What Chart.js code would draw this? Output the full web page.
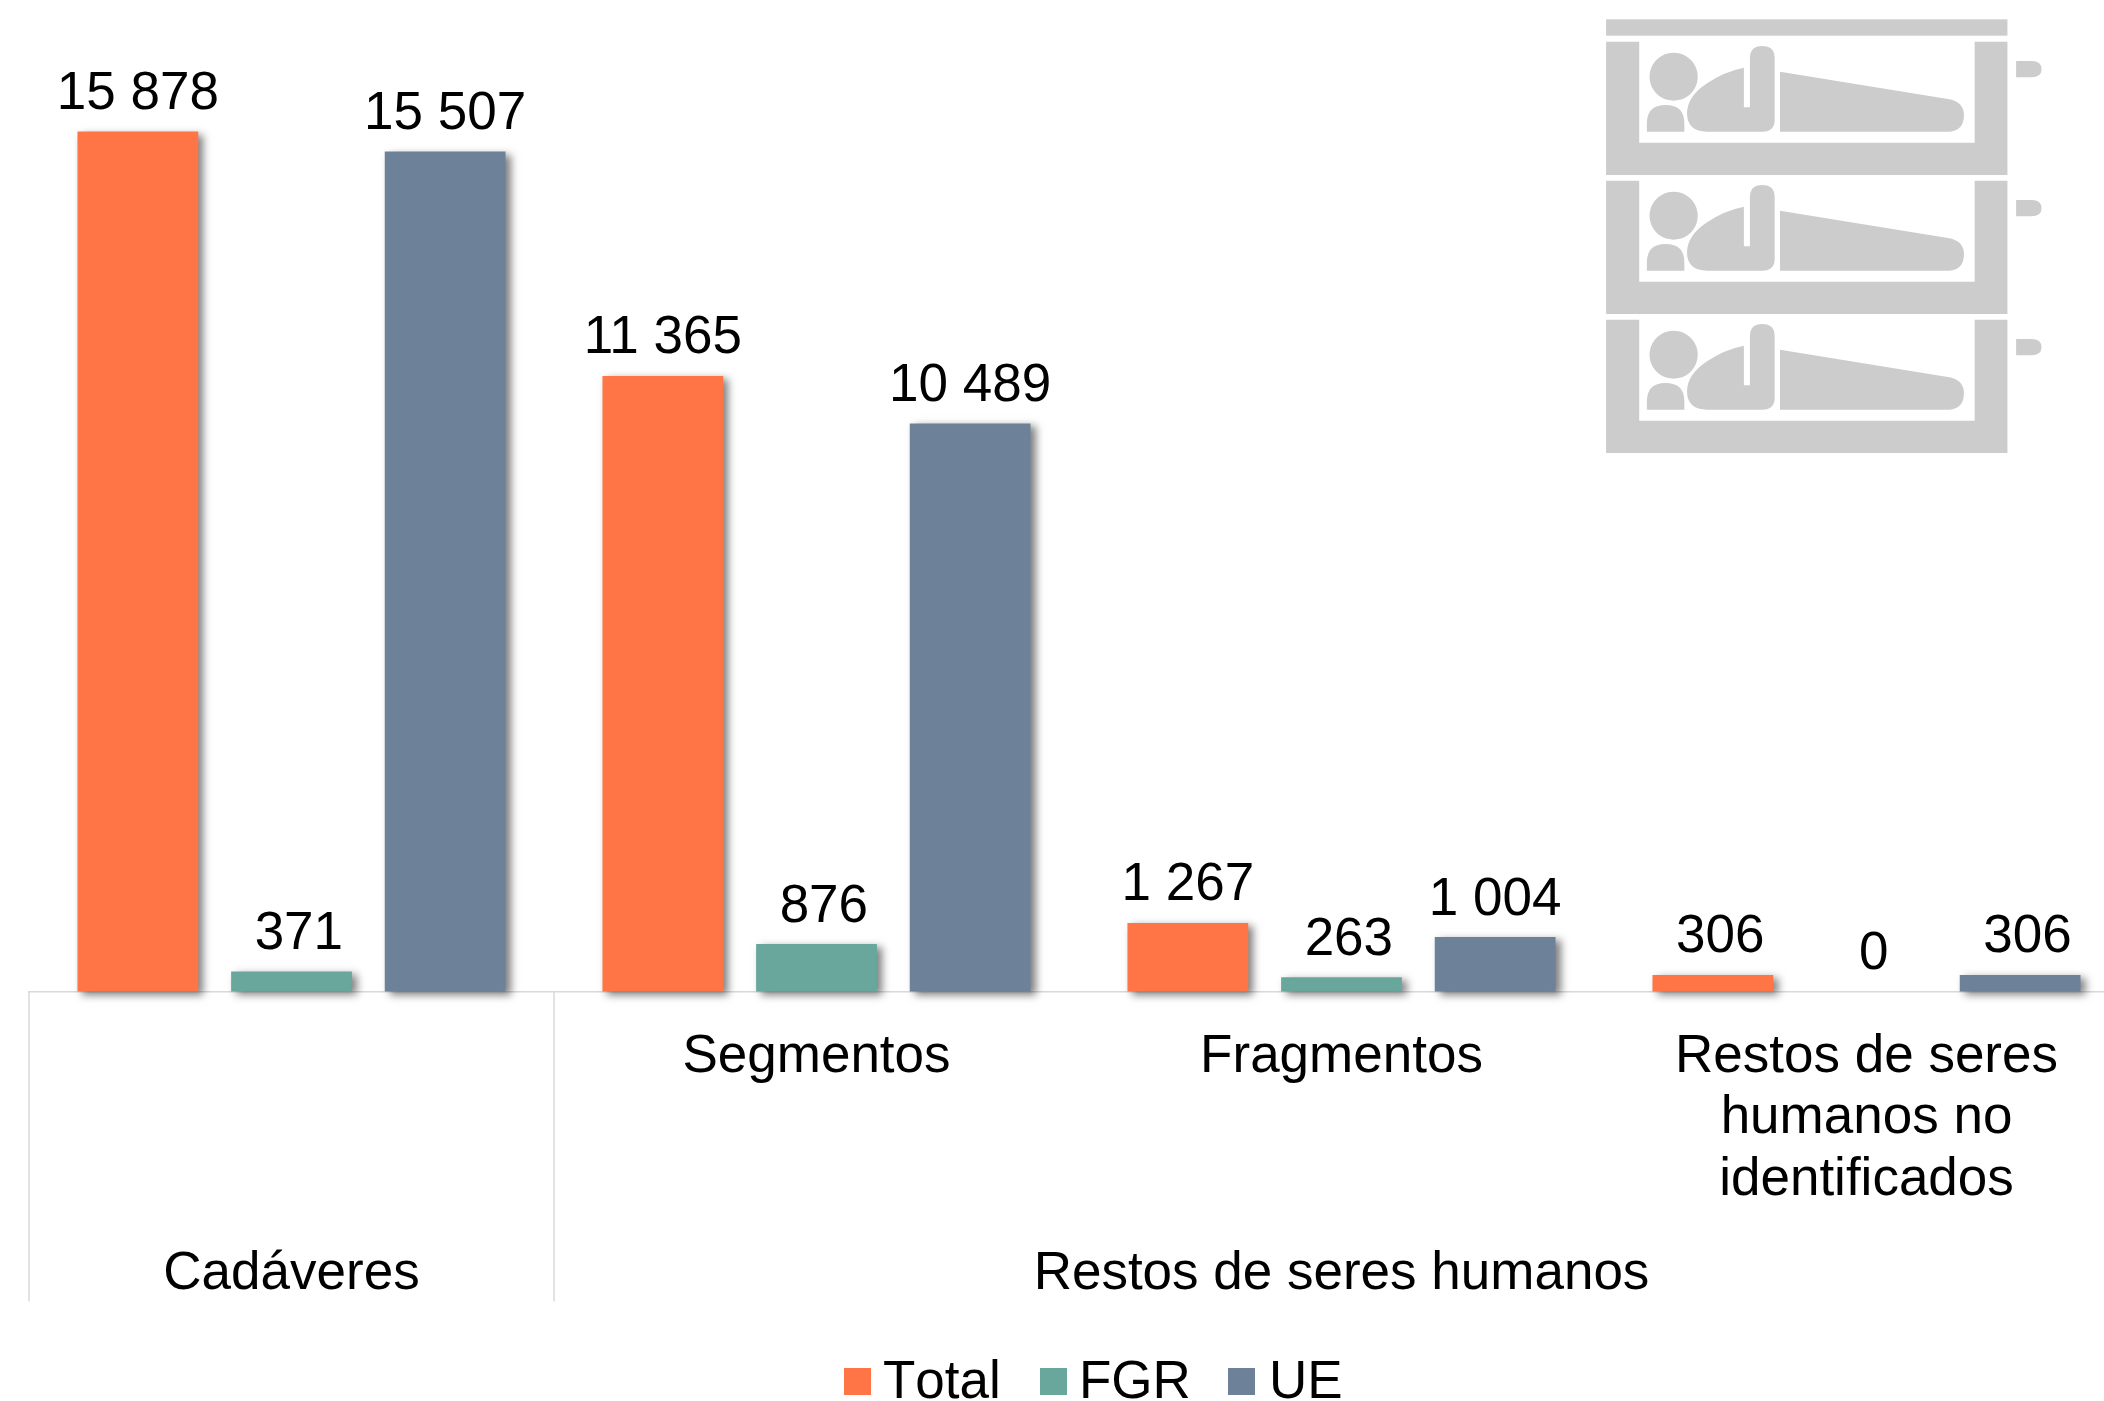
<!DOCTYPE html>
<html>
<head>
<meta charset="utf-8">
<title>Cadáveres y restos de seres humanos</title>
<style>
html,body{margin:0;padding:0;background:#fff;overflow:hidden;width:2104px;height:1401px}
canvas{display:block}
</style>
<script src="https://cdn.jsdelivr.net/npm/chart.js@4"></script>
</head>
<body>
<canvas id="c" width="2140" height="1401" style="width:2140px;height:1401px"></canvas>
<script>
const categories = ['', 'Segmentos', 'Fragmentos', ['Restos de seres', 'humanos no', 'identificados']];
const groupLabels = ['Cadáveres', 'Restos de seres humanos'];
const groupSpans = [1, 3];
const seriesNames = ['Total', 'FGR', 'UE'];
const totalValues = [15878, 11365, 1267, 306];
const fgrValues = [371, 876, 263, 0];
const ueValues = [15507, 10489, 1004, 306];
const seriesColors = ['#FF7546', '#69A79C', '#6D8299'];

const FONT = '53px "Liberation Sans", Arial, sans-serif';
const GREY = '#D9D9D9';

function fmt(v) {
  // Source number format "# ##0" keeps the literal blank for values under 1000
  const s = String(v);
  return s.length > 3 ? s.slice(0, -3) + ' ' + s.slice(-3) : ' ' + s;
}

const noKerning = {
  id: 'noKerning',
  beforeDraw(chart) { chart.ctx.fontKerning = 'none'; }
};

const barShadow = {
  id: 'barShadow',
  beforeDatasetDraw(chart) {
    const c = chart.ctx;
    c.save();
    c.shadowColor = 'rgba(0,0,0,0.5)';
    c.shadowBlur = 8;
    c.shadowOffsetX = 5;
    c.shadowOffsetY = 3;
  },
  afterDatasetDraw(chart) { chart.ctx.restore(); }
};

const valueLabels = {
  id: 'valueLabels',
  afterDatasetsDraw(chart) {
    const c = chart.ctx;
    c.save();
    c.font = FONT;
    c.fontKerning = 'normal';
    c.fillStyle = '#000';
    c.textAlign = 'center';
    c.textBaseline = 'alphabetic';
    chart.data.datasets.forEach((ds, i) => {
      chart.getDatasetMeta(i).data.forEach((bar, j) => {
        c.fillText(fmt(ds.data[j]), bar.x, bar.y - 22.5);
      });
    });
    c.restore();
  }
};

const groupAxis = {
  id: 'groupAxis',
  afterDraw(chart) {
    const c = chart.ctx, x = chart.scales.x, bottom = x.top + 310;
    const step = x.getPixelForValue(1) - x.getPixelForValue(0);
    c.save();
    c.font = FONT;
    c.textAlign = 'center';
    c.textBaseline = 'alphabetic';
    let idx = 0;
    groupLabels.forEach((g, i) => {
      const left = x.getPixelForValue(idx) - step / 2;
      const right = left + groupSpans[i] * step;
      c.strokeStyle = GREY;
      c.lineWidth = 1.5;
      c.beginPath();
      c.moveTo(left, x.top);
      c.lineTo(left, bottom);
      c.stroke();
      c.fillStyle = '#000';
      c.fillText(g, (left + right) / 2, x.top + 297);
      idx += groupSpans[i];
    });
    c.restore();
  }
};

const customLegend = {
  id: 'customLegend',
  afterDraw(chart) {
    const c = chart.ctx;
    const swatchX = [844, 1040, 1228];
    c.save();
    c.font = FONT;
    c.textBaseline = 'alphabetic';
    c.textAlign = 'left';
    seriesNames.forEach((n, i) => {
      c.fillStyle = seriesColors[i];
      c.fillRect(swatchX[i], 1368, 27, 27);
      c.fillStyle = '#000';
      c.fillText(n, swatchX[i] + (i === 2 ? 41 : 39), 1398);
    });
    c.restore();
  }
};

const bunkIcon = {
  id: 'bunkIcon',
  afterDraw(chart) {
    const c = chart.ctx;
    const unit = new Path2D(
      'M78 125H177V428H1180V125H1278V525H78Z' +
      'M280 158A72 72 0 1 1 279.9 158Z' +
      'M200 395V370Q200 315 256 315Q312 315 312 370V395Z' +
      'M380 395Q320 395 320 340Q320 290 380 250Q430 215 490 203V322H508V175Q508 138 545 138Q582 138 582 175V360Q582 395 545 395Z' +
      'M598 395V215L1100 297Q1148 305 1148 345Q1148 395 1100 395Z' +
      'M1304 183H1350Q1380 183 1380 208Q1380 232 1350 232H1304Z'
    );
    c.save();
    c.fillStyle = '#CCCCCC';
    c.translate(1580, 0);
    c.scale(1 / 2.99, 1 / 3);
    c.fillRect(78, 58, 1200, 49);
    for (let i = 0; i < 3; i++) {
      c.save();
      c.translate(0, i * 417);
      c.fill(unit);
      c.restore();
    }
    c.restore();
  }
};

new Chart(document.getElementById('c'), {
  type: 'bar',
  data: {
    labels: categories,
    datasets: [totalValues, fgrValues, ueValues].map((d, i) => ({
      label: seriesNames[i],
      data: d,
      backgroundColor: seriesColors[i],
      borderWidth: 0,
      clip: false,
      barPercentage: 0.786,
      categoryPercentage: 0.878
    }))
  },
  plugins: [noKerning, barShadow, valueLabels, groupAxis, customLegend, bunkIcon],
  options: {
    responsive: false,
    animation: false,
    layout: { padding: { left: 29, right: 11, top: 16.6, bottom: 0 } },
    plugins: { legend: { display: false }, title: { display: false }, tooltip: { enabled: false } },
    scales: {
      y: { display: false, min: 0, max: 18000 },
      x: {
        afterFit(s) { s.height = 409.5; },
        grid: { display: false },
        border: { display: true, color: GREY, width: 1.5 },
        ticks: {
          autoSkip: false, maxRotation: 0, minRotation: 0, padding: 27,
          color: '#000',
          font: { family: '"Liberation Sans", Arial, sans-serif', size: 53, lineHeight: 1.16 }
        }
      }
    }
  }
});
</script>
</body>
</html>
